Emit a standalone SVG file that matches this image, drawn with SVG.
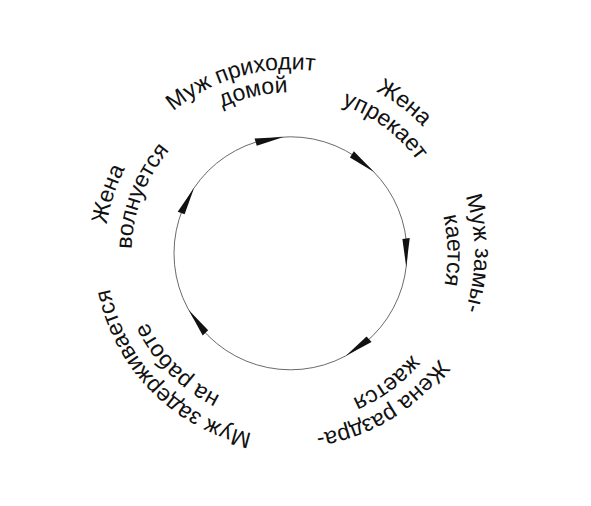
<svg xmlns="http://www.w3.org/2000/svg" xmlns:xlink="http://www.w3.org/1999/xlink" width="591" height="506" viewBox="0 0 591 506">
<style>
.lbl{font-family:"Liberation Sans",Arial,sans-serif;font-size:23px;fill:#111;}
.ring{fill:none;stroke:#444;stroke-width:0.8;}
.wedge{fill:#111;}
</style>
<defs>
<path id="p1" d="M109.88,288.41 A184,184 0 0 1 462.28,187.36"/>
<path id="p2" d="M131.07,275.71 A161,161 0 0 1 443.62,203.55"/>
<path id="p3" d="M154.51,130.85 A183,183 0 0 1 445.69,350.28"/>
<path id="p4" d="M172.91,149.27 A157,157 0 0 1 424.36,335.33"/>
<path id="p5" d="M306.54,70.0 A184,184 0 0 1 306.54,436.6"/>
<path id="p6" d="M301.45,96.68 A157,157 0 0 1 306.91,409.44"/>
<path id="p7" d="M453.66,172.66 A182,182 0 0 1 143.82,361.05"/>
<path id="p8" d="M425.22,170.74 A158,158 0 0 1 172.16,357.99"/>
<path id="p9" d="M407.54,395.28 A184,184 0 0 1 150.58,133.80"/>
<path id="p10" d="M392.06,375.63 A159,159 0 0 1 169.24,150.46"/>
<path id="p11" d="M217.82,424.51 A186,186 0 0 1 332.34,72.07"/>
<path id="p12" d="M220.80,396.21 A159,159 0 0 1 334.33,100.46"/>
<polygon id="wedge" points="112.8,0 120.2,0 113.04,28.18"/>
</defs>
<g id="connectors">
<circle class="ring" cx="290.5" cy="253.3" r="116.5"/>
<g transform="translate(290.5 253.3)" class="wedge">
<use xlink:href="#wedge" href="#wedge" transform="rotate(-107.4)"/>
<use xlink:href="#wedge" href="#wedge" transform="rotate(-58.2)"/>
<use xlink:href="#wedge" href="#wedge" transform="rotate(-7.3)"/>
<use xlink:href="#wedge" href="#wedge" transform="rotate(47.6)"/>
<use xlink:href="#wedge" href="#wedge" transform="rotate(136.9)"/>
<use xlink:href="#wedge" href="#wedge" transform="rotate(200.2)"/>
</g>
</g>
<g id="node-husband-home"><text class="lbl" text-anchor="middle"><textPath xlink:href="#p1" href="#p1" startOffset="50%">Муж приходит</textPath></text><text class="lbl" text-anchor="middle"><textPath xlink:href="#p2" href="#p2" startOffset="50%">домой</textPath></text></g>
<g id="node-wife-reproaches"><text class="lbl" text-anchor="middle"><textPath xlink:href="#p3" href="#p3" startOffset="50%">Жена</textPath></text><text class="lbl" text-anchor="middle"><textPath xlink:href="#p4" href="#p4" startOffset="50%">упрекает</textPath></text></g>
<g id="node-husband-withdraws"><text class="lbl" text-anchor="middle"><textPath xlink:href="#p5" href="#p5" startOffset="50%">Муж замы-</textPath></text><text class="lbl" text-anchor="middle"><textPath xlink:href="#p6" href="#p6" startOffset="50%">кается</textPath></text></g>
<g id="node-wife-irritated"><text class="lbl" text-anchor="middle"><textPath xlink:href="#p7" href="#p7" startOffset="50%">Жена раздра-</textPath></text><text class="lbl" text-anchor="middle"><textPath xlink:href="#p8" href="#p8" startOffset="50%">жается</textPath></text></g>
<g id="node-husband-late"><text class="lbl" text-anchor="middle"><textPath xlink:href="#p9" href="#p9" startOffset="50%">Муж задерживается</textPath></text><text class="lbl" text-anchor="middle"><textPath xlink:href="#p10" href="#p10" startOffset="50%">на работе</textPath></text></g>
<g id="node-wife-worries"><text class="lbl" text-anchor="middle"><textPath xlink:href="#p11" href="#p11" startOffset="50%">Жена</textPath></text><text class="lbl" text-anchor="middle"><textPath xlink:href="#p12" href="#p12" startOffset="50%">волнуется</textPath></text></g>
</svg>
